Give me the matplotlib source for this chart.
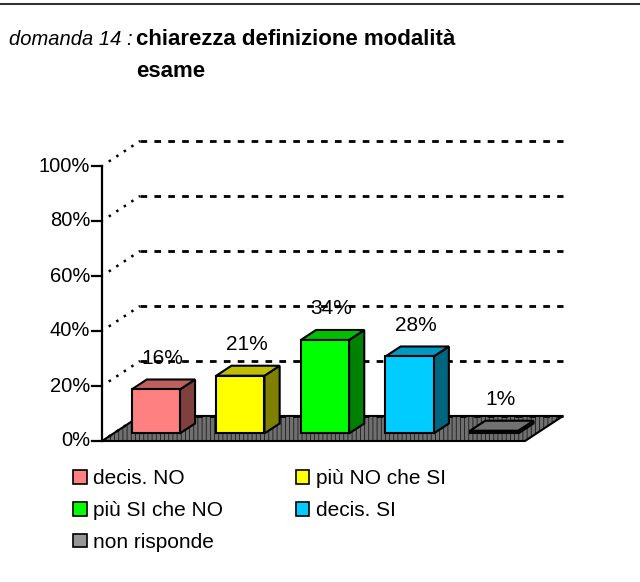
import matplotlib
matplotlib.use('Agg')
import matplotlib.pyplot as plt
from matplotlib.patches import Polygon, Patch
from matplotlib.lines import Line2D
import matplotlib.colors as mcolors

categories = ['decis. NO', 'più NO che SI', 'più SI che NO', 'decis. SI', 'non risponde']
values = [16, 21, 34, 28, 1]
value_labels = ['16%', '21%', '34%', '28%', '1%']
yticks = [0, 20, 40, 60, 80, 100]
ytick_labels = ['0%', '20%', '40%', '60%', '80%', '100%']
colors = ['#FF8080', '#FFFF00', '#00FF00', '#00CCFF', '#969696']
title_italic = 'domanda 14 :'
title_bold_1 = 'chiarezza definizione modalità'
title_bold_2 = 'esame'

plt.rcParams['font.family'] = ['Liberation Sans', 'DejaVu Sans']
plt.rcParams['hatch.linewidth'] = 0.6

W, H = 640, 582
fig = plt.figure(figsize=(6.4, 5.82), dpi=100)
ax = fig.add_axes([0, 0, 1, 1])
PX0, PY0 = 102, 441
SX, SY = 84.6, 2.75
ax.set_xlim(-PX0 / SX, (W - PX0) / SX)
ax.set_ylim(-(H - PY0) / SY, PY0 / SY)
ax.axis('off')

DX, DY = 0.45, 9.1
n = len(values)


def shade(c, f):
    r, g, b = mcolors.to_rgb(c)
    return (r * f, g * f, b * f)


# floor
floor_pts = [(0, 0), (n, 0), (n + DX, DY), (DX, DY)]
ax.add_patch(Polygon(floor_pts, closed=True, facecolor='#707070', edgecolor='#1a1a1a',
                     hatch='||||', lw=0, zorder=1))
ax.add_patch(Polygon(floor_pts, closed=True, facecolor='none', edgecolor='black',
                     lw=1.5, zorder=1.1))

# gridlines on back wall and side wall
for t in yticks:
    ax.plot([DX, n + DX], [t + DY, t + DY], color='black', lw=2.0,
            linestyle=(0, (2.4, 2.6)), zorder=2, dash_capstyle='butt')
    ax.plot([0.08, DX], [t + DY * 0.08 / DX, t + DY], color='black', lw=1.8,
            linestyle=(0, (1.0, 2.6)), zorder=2)

# y axis
ax.plot([0, 0], [0, yticks[-1]], color='black', lw=1.6, zorder=3)
for t, lab in zip(yticks, ytick_labels):
    ax.plot([-10 / SX, 0], [t, t], color='black', lw=1.6, zorder=3)
    ax.text(-12 / SX, t, lab, ha='right', va='center', fontsize=14.5, zorder=3)

# bars
w = 0.57
f0, f1 = 0.3, 0.7
for i, (v, c) in enumerate(zip(values, colors)):
    l = i + 0.5 - w / 2
    r = l + w
    a0x, a0y = f0 * DX, f0 * DY
    a1x, a1y = f1 * DX, f1 * DY
    front = [(l + a0x, a0y), (r + a0x, a0y), (r + a0x, v + a0y), (l + a0x, v + a0y)]
    top = [(l + a0x, v + a0y), (r + a0x, v + a0y), (r + a1x, v + a1y), (l + a1x, v + a1y)]
    side = [(r + a0x, a0y), (r + a1x, a1y), (r + a1x, v + a1y), (r + a0x, v + a0y)]
    ax.add_patch(Polygon(side, closed=True, facecolor=shade(c, 0.5), edgecolor='black',
                         lw=1.5, joinstyle='miter', zorder=4))
    ax.add_patch(Polygon(top, closed=True, facecolor=shade(c, 0.75), edgecolor='black',
                         lw=1.5, joinstyle='miter', zorder=4))
    ax.add_patch(Polygon(front, closed=True, facecolor=c, edgecolor='black',
                         lw=1.5, joinstyle='miter', zorder=4))
    ax.text(i + 0.5 + 0.47 * DX, v + DY + 5.0, value_labels[i], ha='center', va='center',
            fontsize=15, zorder=6)

# legend
handles = [Patch(facecolor=c, edgecolor='black', lw=1.2, label=cat)
           for c, cat in zip(colors, categories)]
order = [0, 2, 4, 1, 3]
ax.legend(handles=[handles[k] for k in order], loc='upper left',
          bbox_to_anchor=(73 / W, 1 - 469 / H), bbox_transform=fig.transFigure,
          ncol=2, frameon=False, fontsize=15, handlelength=0.65, handleheight=0.65,
          handletextpad=0.3, columnspacing=3.5, labelspacing=0.62,
          borderpad=0, borderaxespad=0)

# title
fig.text(9 / W, 1 - 45 / H, title_italic, style='italic', fontsize=14.5, va='baseline')
fig.text(136 / W, 1 - 45 / H, title_bold_1, fontweight='bold', fontsize=16, va='baseline')
fig.text(136 / W, 1 - 77 / H, title_bold_2, fontweight='bold', fontsize=16, va='baseline')

# top border
fig.add_artist(Line2D([0, 1], [1 - 4 / H, 1 - 4 / H], transform=fig.transFigure,
                      color='#333333', lw=1.5))

fig.savefig('out.png', dpi=100)
